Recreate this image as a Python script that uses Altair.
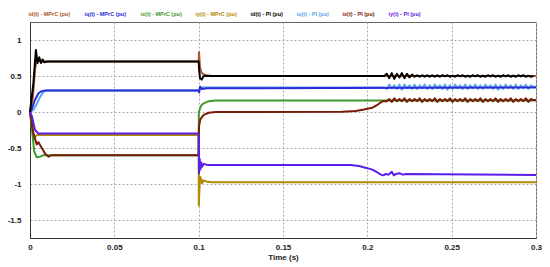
import altair as alt
import pandas as pd

labels = ["id(t) - MPrC (pu)", "iq(t) - MPrC (pu)", "ix(t) - MPrC (pu)", "iy(t) - MPrC (pu)",
          "id(t) - PI (pu)", "iq(t) - PI (pu)", "ix(t) - PI (pu)", "iy(t) - PI (pu)"]
colors = ["#b0552a", "#2b2bd8", "#3f9a2a", "#b08a00", "#000000", "#5aa8f0", "#7a1a08", "#5a1ee8"]

x_ticks = [0, 0.05, 0.1, 0.15, 0.2, 0.25, 0.3]
y_ticks = [-1.5, -1, -0.5, 0, 0.5, 1]

# sample times of the noisy stretch after t = 0.21 s
t_band = [0.2115, 0.213, 0.2145, 0.216, 0.2175, 0.219, 0.2205, 0.222, 0.2235, 0.225,
          0.2265, 0.228, 0.2295, 0.231, 0.2325, 0.234, 0.2355, 0.237, 0.2385, 0.24,
          0.2415, 0.243, 0.2445, 0.246, 0.2475, 0.249, 0.2505, 0.252, 0.2535, 0.255,
          0.2565, 0.258, 0.2595, 0.261, 0.2625, 0.264, 0.2655, 0.267, 0.2685, 0.27,
          0.2715, 0.273, 0.2745, 0.276, 0.2775, 0.279, 0.2805, 0.282, 0.2835, 0.285,
          0.2865, 0.288, 0.2895, 0.291, 0.2925, 0.294, 0.2955, 0.297, 0.2985]

# id(t) - MPrC
t_id_m = [0, 0.0017, 0.003, 0.0042, 0.005, 0.007, 0.1, 0.1002, 0.1008, 0.1015, 0.102, 0.103, 0.105, 0.108, 0.3]
v_id_m = [0, 0.2, 0.6, 0.74, 0.71, 0.7, 0.7, 0.83, 0.62, 0.56, 0.54, 0.52, 0.51, 0.5, 0.5]

# iq(t) - MPrC
t_iq_m = [0, 0.001, 0.003, 0.005, 0.007, 0.009, 0.1, 0.1003, 0.1008, 0.102, 0.105, 0.3]
v_iq_m = [0, 0.04, 0.17, 0.26, 0.29, 0.3, 0.3, 0.27, 0.35, 0.32, 0.33, 0.34]

# ix(t) - MPrC
t_ix_m = [0, 0.001, 0.0025, 0.004, 0.006, 0.008, 0.01, 0.1, 0.1001, 0.1015, 0.103, 0.106, 0.11, 0.3]
v_ix_m = [0, -0.2, -0.55, -0.63, -0.62, -0.6, -0.6, -0.6, 0.0, 0.09, 0.12, 0.15, 0.16, 0.16]

# iy(t) - MPrC
t_iy_m = [0, 0.001, 0.002, 0.003, 0.004, 0.1, 0.1001, 0.1004, 0.1008, 0.1015, 0.102, 0.103, 0.105, 0.108, 0.3]
v_iy_m = [0, -0.15, -0.3, -0.35, -0.32, -0.32, -1.3, -1.1, -0.9, -0.93, -0.99, -0.95, -0.97, -0.975, -0.975]

# id(t) - PI
t_id_p = [0, 0.002, 0.0035, 0.0045, 0.0055, 0.0065, 0.0075, 0.0085, 0.01, 0.1, 0.1003, 0.1008,
          0.1018, 0.103, 0.21] + t_band + [0.3]
v_id_p = [0, 0.4, 0.86, 0.68, 0.76, 0.68, 0.73, 0.69, 0.7, 0.7, 0.58, 0.47, 0.45, 0.5, 0.5,
          0.53, 0.47, 0.54, 0.46, 0.53, 0.48, 0.54, 0.47, 0.53, 0.48,
          0.52, 0.49, 0.51, 0.49, 0.51, 0.49, 0.51, 0.49, 0.51, 0.49,
          0.51, 0.49, 0.51, 0.495, 0.51, 0.49, 0.505, 0.49, 0.51, 0.495,
          0.51, 0.49, 0.505, 0.49, 0.51, 0.495, 0.51, 0.49, 0.505, 0.49,
          0.51, 0.495, 0.51, 0.49, 0.505, 0.49, 0.51, 0.495, 0.51, 0.49,
          0.505, 0.49, 0.51, 0.495, 0.51, 0.49, 0.505, 0.49, 0.5]

# iq(t) - PI
t_iq_p = [0, 0.002, 0.004, 0.006, 0.008, 0.01, 0.1, 0.1005, 0.102, 0.21] + t_band + [0.3]
v_iq_p = [0, 0.03, 0.11, 0.21, 0.28, 0.3, 0.3, 0.32, 0.34, 0.34,
          0.32, 0.38, 0.33, 0.37, 0.32, 0.38, 0.31, 0.38, 0.33, 0.37,
          0.32, 0.38, 0.32, 0.37, 0.33, 0.38, 0.32, 0.37, 0.32, 0.38,
          0.33, 0.37, 0.32, 0.38, 0.31, 0.37, 0.32, 0.38, 0.33, 0.37,
          0.32, 0.38, 0.32, 0.37, 0.33, 0.38, 0.32, 0.37, 0.32, 0.38,
          0.33, 0.37, 0.32, 0.38, 0.31, 0.37, 0.32, 0.38, 0.33, 0.37,
          0.32, 0.38, 0.32, 0.37, 0.33, 0.38, 0.32, 0.37, 0.35, 0.35]

# ix(t) - PI
t_ix_p = [0, 0.002, 0.004, 0.005, 0.007, 0.009, 0.011, 0.013, 0.1, 0.1002, 0.101, 0.103, 0.106,
          0.11, 0.185, 0.193, 0.198, 0.203, 0.206, 0.209] + t_band + [0.3]
v_ix_p = [0, -0.3, -0.45, -0.42, -0.5, -0.58, -0.62, -0.6, -0.6, -0.2, -0.1, -0.04, -0.01,
          0.0, 0.005, 0.015, 0.035, 0.06, 0.1, 0.15,
          0.15, 0.18, 0.14, 0.19, 0.15, 0.18, 0.15, 0.19, 0.14, 0.18,
          0.15, 0.18, 0.15, 0.19, 0.14, 0.18, 0.15, 0.18, 0.15, 0.19,
          0.14, 0.18, 0.15, 0.18, 0.15, 0.19, 0.14, 0.18, 0.15, 0.18,
          0.15, 0.19, 0.14, 0.18, 0.15, 0.18, 0.15, 0.19, 0.14, 0.18,
          0.15, 0.18, 0.15, 0.19, 0.14, 0.18, 0.15, 0.18, 0.15, 0.19,
          0.14, 0.18, 0.15, 0.18, 0.15, 0.19, 0.14, 0.18, 0.165, 0.165]

# iy(t) - PI
t_iy_p = [0, 0.001, 0.003, 0.005, 0.007, 0.1, 0.1002, 0.1006, 0.101, 0.1015, 0.102, 0.103, 0.105,
          0.19, 0.195, 0.2, 0.203, 0.206, 0.208, 0.2095, 0.211, 0.2125, 0.2145, 0.2157,
          0.217, 0.219, 0.221, 0.223, 0.3]
v_iy_p = [0, -0.05, -0.25, -0.3, -0.3, -0.3, -0.85, -0.65, -0.8, -0.7, -0.76, -0.72, -0.735,
          -0.735, -0.75, -0.78, -0.8, -0.84, -0.87, -0.88, -0.86, -0.87, -0.83, -0.88,
          -0.86, -0.85, -0.87, -0.86, -0.875]

series_data = {
    labels[0]: (t_id_m, v_id_m),
    labels[1]: (t_iq_m, v_iq_m),
    labels[2]: (t_ix_m, v_ix_m),
    labels[3]: (t_iy_m, v_iy_m),
    labels[4]: (t_id_p, v_id_p),
    labels[5]: (t_iq_p, v_iq_p),
    labels[6]: (t_ix_p, v_ix_p),
    labels[7]: (t_iy_p, v_iy_p),
}
draw_order = [labels[5], labels[0], labels[3], labels[2], labels[1], labels[6], labels[7], labels[4]]

rows = []
for name in draw_order:
    ts, vs = series_data[name]
    for t, v in zip(ts, vs):
        rows.append({"series": name, "t": t, "v": v})
df = pd.DataFrame(rows)

font = "Liberation Sans"

chart = alt.Chart(df).mark_line(strokeWidth=2, strokeJoin="round").encode(
    x=alt.X("t:Q",
            scale=alt.Scale(domain=[0, 0.3], nice=False, zero=False),
            axis=alt.Axis(values=x_ticks, format="~g", title="Time (s)", ticks=False,
                          labelPadding=5, titlePadding=2, labelFontSize=8, titleFontSize=8,
                          labelFontWeight="bold", titleFontWeight="bold", labelFont=font,
                          titleFont=font, labelColor="#222", titleColor="#222",
                          domainColor="#333", gridColor="#aaa", gridDash=[2, 2],
                          labelFlush=False)),
    y=alt.Y("v:Q",
            scale=alt.Scale(domain=[-1.75, 1.25], nice=False, zero=False),
            axis=alt.Axis(values=y_ticks, title=None, ticks=False, labelPadding=9,
                          labelExpr="datum.value < 0 ? '-' + format(-datum.value, '~g') : format(datum.value, '~g')",
                          labelFontSize=8, labelFontWeight="bold", labelFont=font,
                          labelColor="#222", domainColor="#333", gridColor="#aaa",
                          gridDash=[2, 2])),
    color=alt.Color("series:N",
                    scale=alt.Scale(domain=labels, range=colors),
                    legend=alt.Legend(title=None, orient="none", legendX=-7, legendY=-11,
                                      direction="horizontal", columns=8, gridAlign="none",
                                      symbolSize=0, symbolStrokeWidth=0, symbolOpacity=0,
                                      labelOffset=0, columnPadding=8,
                                      labelFontSize=5.5, labelFont=font, labelFontWeight="bold",
                                      labelColor={"expr": "scale('color', datum.value)"})),
).properties(
    width=506, height=216,
    autosize=alt.AutoSizeParams(type="none"),
    padding={"left": 22, "top": 14, "right": 6, "bottom": 25},
).configure_view(stroke="#666", strokeWidth=1)

chart.save("out.html", embed_options={"renderer": "svg", "actions": False})
